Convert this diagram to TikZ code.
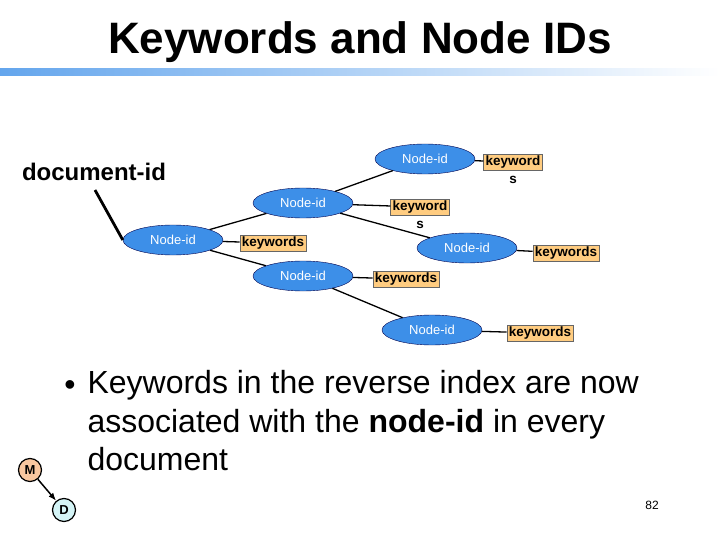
\documentclass[tikz,border=0pt]{standalone}
\usepackage{fontspec}
\setmainfont{Liberation Sans}
\usetikzlibrary{shapes.geometric,arrows.meta}
\definecolor{ebl}{HTML}{3D8FE8}
\definecolor{kor}{HTML}{FFCC80}
\definecolor{mor}{HTML}{F9C7A0}
\definecolor{dcy}{HTML}{D4F4F6}
\tikzset{
 nid/.style={ellipse,draw=black!70!blue,fill=ebl,minimum width=100pt,minimum height=30pt,inner sep=0pt,text=white,font=\fontsize{13}{14}\selectfont},
 kw/.style={draw=black!60,fill=kor,inner sep=2pt,font=\bfseries\fontsize{13.5}{14}\selectfont},
 kws/.style={font=\bfseries\fontsize{13.5}{14}\selectfont},
 ed/.style={line width=1.3pt},
 circ/.style={circle,draw=black,line width=1.2pt,minimum size=23pt,inner sep=0pt,font=\bfseries\fontsize{13}{14}\selectfont}
}
\begin{document}
\begin{tikzpicture}[x=1pt,y=-1pt]
\useasboundingbox (0,0) rectangle (720,540);
\node[font=\bfseries\fontsize{44}{48}\selectfont] (title) at (360,42) {Keywords and Node IDs};
\shade[left color=ebl!80,right color=white] (0,69) rectangle (720,76);
\node[font=\bfseries\fontsize{24}{26}\selectfont] (doc) at (94,172) {document-id};
\node[nid] (e1) at (173,240) {Node-id};
\node[nid] (e2) at (303,203) {Node-id};
\node[nid] (e3) at (425,159) {Node-id};
\node[nid] (e4) at (467,248) {Node-id};
\node[nid] (e5) at (303,276) {Node-id};
\node[nid] (e6) at (432,330) {Node-id};
\node[kw] (k1) at (273,243) {keywords};
\node[kw] (k2) at (420,207) {keyword};
\node[kws] (s2) at (420,225) {s};
\node[kw] (k3) at (513,162) {keyword};
\node[kws] (s3) at (513,180) {s};
\node[kw] (k4) at (566,253) {keywords};
\node[kw] (k5) at (406,279) {keywords};
\node[kw] (k6) at (540,333) {keywords};
\coordinate (dt) at (95,190);
\draw[line width=2.8pt] (dt) -- (e1.west);
\draw[ed] (e1) -- (e2); \draw[ed] (e1) -- (e5); \draw[ed] (e1) -- (k1);
\draw[ed] (e2) -- (e3); \draw[ed] (e2) -- (k2); \draw[ed] (e2) -- (e4);
\draw[ed] (e3) -- (k3); \draw[ed] (e4) -- (k4);
\draw[ed] (e5) -- (k5); \draw[ed] (e5) -- (e6); \draw[ed] (e6) -- (k6);
\node[anchor=north west,align=left,font=\fontsize{32}{38.5}\selectfont] (txt) at (84,367)
 {Keywords in the reverse index are now\\
 associated with the \textbf{node-id} in every\\
 document};
\node[font=\fontsize{32}{34}\selectfont] (bul) at (70,388) {\textbullet};
\node[font=\fontsize{12}{14}\selectfont] (pg) at (652,505) {82};
\node[circ,fill=mor] (m) at (30,470) {M};
\node[circ,fill=dcy] (d) at (64,510) {D};
\draw[line width=1.5pt,-{Latex[length=8pt]}] (m) -- (d);
\end{tikzpicture}
\end{document}
